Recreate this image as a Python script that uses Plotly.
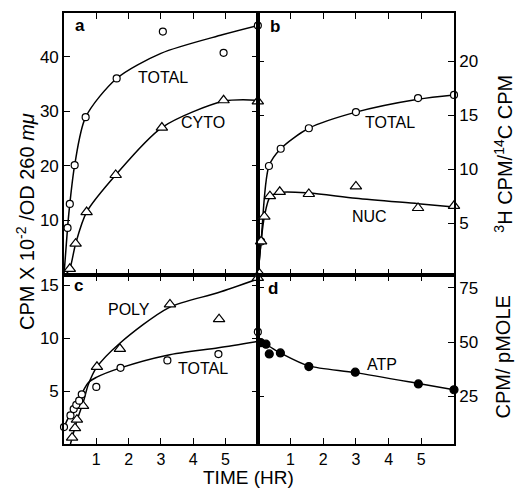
import plotly.graph_objects as go

# ---- Panel a : CPM x 10^-2 / OD260 (TOTAL, CYTO) ----
a_total_t = [0.11, 0.18, 0.33, 0.67, 1.63, 3.06, 4.94, 6.0]
a_total_v = [8.6, 13.0, 20.1, 28.9, 36.0, 44.6, 40.7, 45.7]
a_total_curve_t = [0, 0.11, 0.18, 0.33, 0.67, 1.63, 3.0, 4.9, 6.0]
a_total_curve_v = [0, 8.6, 13.0, 20.1, 28.9, 36.0, 40.6, 44.0, 45.7]
a_cyto_t = [0.18, 0.36, 0.7, 1.6, 3.03, 4.94, 6.0]
a_cyto_v = [1.1, 5.7, 11.5, 18.3, 27.0, 32.0, 31.8]
a_cyto_curve_t = [0.05, 0.18, 0.36, 0.7, 1.6, 3.03, 4.94, 6.0]
a_cyto_curve_v = [0, 1.1, 5.7, 11.5, 18.3, 27.0, 31.8, 32.0]

# ---- Panel b : 3H CPM / 14C CPM (TOTAL, NUC) ----
b_total_t = [0.1, 0.34, 0.7, 1.56, 3.0, 4.9, 6.0]
b_total_v = [3.3, 10.3, 11.9, 13.8, 15.3, 16.6, 16.9]
b_total_curve_t = [0, 0.1, 0.34, 0.7, 1.56, 3.0, 4.9, 6.0]
b_total_curve_v = [0, 3.3, 10.3, 11.9, 13.8, 15.3, 16.5, 16.9]
b_nuc_t = [0.05, 0.1, 0.2, 0.37, 0.67, 1.56, 3.0, 4.9, 6.0]
b_nuc_v = [0.3, 3.3, 5.6, 7.5, 7.9, 7.7, 8.4, 6.4, 6.6]
b_nuc_curve_t = [0, 0.1, 0.2, 0.37, 0.67, 1.56, 3.0, 4.9, 6.0]
b_nuc_curve_v = [0, 3.3, 5.6, 7.4, 7.85, 7.8, 7.3, 6.8, 6.5]

# ---- Panel c : CPM x 10^-2 / OD260 (POLY, TOTAL) ----
c_poly_t = [0.25, 0.34, 0.4, 0.59, 1.02, 1.73, 3.28, 4.8, 6.0]
c_poly_v = [0.6, 1.5, 2.3, 3.6, 7.3, 9.0, 13.2, 11.8, 15.7]
c_poly_curve_t = [0.2, 0.4, 0.6, 0.75, 1.0, 1.72, 3.25, 4.76, 6.0]
c_poly_curve_v = [0, 2.2, 4.0, 5.6, 7.2, 9.5, 12.9, 14.3, 15.6]
c_total_t = [0.0, 0.2, 0.3, 0.38, 0.47, 0.55, 1.0, 1.75, 3.2, 4.78, 6.0]
c_total_v = [1.6, 2.7, 3.3, 3.7, 4.1, 4.7, 5.4, 7.2, 7.9, 8.5, 10.6]
c_total_curve_t = [0, 0.2, 0.4, 0.75, 1.0, 1.75, 3.2, 4.78, 6.0]
c_total_curve_v = [1.6, 2.9, 3.9, 5.8, 6.3, 7.2, 8.4, 9.1, 9.7]

# ---- Panel d : CPM / pMOLE (ATP) ----
d_atp_t = [0.09, 0.25, 0.35, 0.69, 1.56, 2.98, 4.91, 6.0]
d_atp_v = [49.7, 49.0, 44.5, 45.0, 38.7, 36.1, 30.7, 28.0]
d_atp_curve_t = [0, 0.25, 0.69, 1.56, 2.98, 4.91, 6.0]
d_atp_curve_v = [50, 48.8, 45.0, 39.0, 35.9, 30.9, 28.0]

hour_ticks = [1, 2, 3, 4, 5]
a_yticks = [10, 20, 30, 40]
b_yticks = [5, 10, 15, 20]
c_yticks = [5, 10, 15]
d_yticks = [25, 50, 75]

FONT = "Liberation Sans, Arial, sans-serif"
BLACK = "black"

fig = go.Figure()

def curve(x, y, xa, ya):
    fig.add_trace(go.Scatter(x=x, y=y, xaxis=xa, yaxis=ya, mode="lines",
                             line=dict(color=BLACK, width=1.5, shape="spline", smoothing=0.8),
                             showlegend=False, hoverinfo="skip", cliponaxis=False))

def pts(x, y, xa, ya, symbol, size, fill):
    fig.add_trace(go.Scatter(x=x, y=y, xaxis=xa, yaxis=ya, mode="markers",
                             marker=dict(symbol=symbol, size=size, color=fill,
                                         line=dict(color=BLACK, width=1.2)),
                             showlegend=False, cliponaxis=False))

curve(a_total_curve_t, a_total_curve_v, "x", "y")
curve(a_cyto_curve_t, a_cyto_curve_v, "x", "y")
pts(a_total_t, a_total_v, "x", "y", "circle", 7, "white")
pts(a_cyto_t, a_cyto_v, "x", "y", "triangle-up", 10, "white")

curve(b_total_curve_t, b_total_curve_v, "x2", "y2")
curve(b_nuc_curve_t, b_nuc_curve_v, "x2", "y2")
pts(b_total_t, b_total_v, "x2", "y2", "circle", 7, "white")
pts(b_nuc_t, b_nuc_v, "x2", "y2", "triangle-up", 10, "white")

curve(c_poly_curve_t, c_poly_curve_v, "x3", "y3")
curve(c_total_curve_t, c_total_curve_v, "x3", "y3")
pts(c_poly_t, c_poly_v, "x3", "y3", "triangle-up", 10, "white")
pts(c_total_t, c_total_v, "x3", "y3", "circle", 7, "white")

curve(d_atp_curve_t, d_atp_curve_v, "x4", "y4")
pts(d_atp_t, d_atp_v, "x4", "y4", "circle", 8, BLACK)

XSPLIT = 0.497
YSPLIT = 0.3926

def xax(domain, anchor, labels):
    return dict(domain=domain, anchor=anchor, range=[0, 6], tickvals=hour_ticks,
                showticklabels=labels, ticks="inside", ticklen=6, tickwidth=1.3,
                tickcolor=BLACK, showline=True, linecolor=BLACK, linewidth=1.6,
                mirror="ticks", showgrid=False, zeroline=False,
                tickfont=dict(family=FONT, size=16, color=BLACK))

def yax(domain, anchor, rng, tv, side):
    return dict(domain=domain, anchor=anchor, range=rng, tickvals=tv, side=side,
                ticks="inside", ticklen=6, tickwidth=1.3, tickcolor=BLACK,
                showline=True, linecolor=BLACK, linewidth=1.6, mirror="ticks",
                showgrid=False, zeroline=False,
                tickfont=dict(family=FONT, size=17, color=BLACK))

fig.update_layout(
    width=516, height=488,
    margin=dict(l=64, r=62, t=11, b=44),
    paper_bgcolor="white", plot_bgcolor="white",
    font=dict(family=FONT, color=BLACK),
    xaxis=xax([0, XSPLIT], "y", False),
    yaxis=yax([YSPLIT, 1], "x", [0, 48], a_yticks, "left"),
    xaxis2=xax([XSPLIT, 1], "y2", False),
    yaxis2=yax([YSPLIT, 1], "x2", [0.2, 24.5], b_yticks, "right"),
    xaxis3=xax([0, XSPLIT], "y3", True),
    yaxis3=yax([0, YSPLIT], "x3", [0, 16], c_yticks, "left"),
    xaxis4=xax([XSPLIT, 1], "y4", True),
    yaxis4=yax([0, YSPLIT], "x4", [3, 81], d_yticks, "right"),
)

ann = []
def lab(text, x, y, xref, yref, size=16, **kw):
    ann.append(dict(text=text, x=x, y=y, xref=xref, yref=yref, showarrow=False,
                    font=dict(family=FONT, size=size, color=BLACK),
                    xanchor="center", yanchor="middle", **kw))

# curve labels
lab("TOTAL", 3.05, 36.2, "x", "y")
lab("CYTO", 4.3, 28.0, "x", "y")
lab("TOTAL", 4.04, 14.3, "x2", "y2")
lab("NUC", 3.43, 5.65, "x2", "y2")
lab("POLY", 2.0, 12.75, "x3", "y3")
lab("TOTAL", 4.3, 7.1, "x3", "y3")
lab("ATP", 3.8, 39.5, "x4", "y4")

# panel letters
lab("<b>a</b>", 0.041, 0.970, "paper", "paper", size=17)
lab("<b>b</b>", 0.541, 0.968, "paper", "paper", size=17)
lab("<b>c</b>", 0.036, 0.367, "paper", "paper", size=17)
lab("<b>d</b>", 0.536, 0.360, "paper", "paper", size=17)

# axis titles
lab("CPM X 10<sup>-2</sup> /OD 260 <i>mμ</i>", -0.10, 0.515, "paper", "paper", size=20, textangle=-90)
lab("<sup>3</sup>H CPM/<sup>14</sup>C CPM", 1.126, 0.674, "paper", "paper", size=20, textangle=-90)
lab("CPM/ pMOLE", 1.126, 0.201, "paper", "paper", size=20, textangle=-90)
lab("TIME (HR)", 0.472, -0.077, "paper", "paper", size=19)

fig.update_layout(annotations=ann)

fig.write_html("out.html", config={"displayModeBar": False},
               post_script="document.body.style.margin='0';")
